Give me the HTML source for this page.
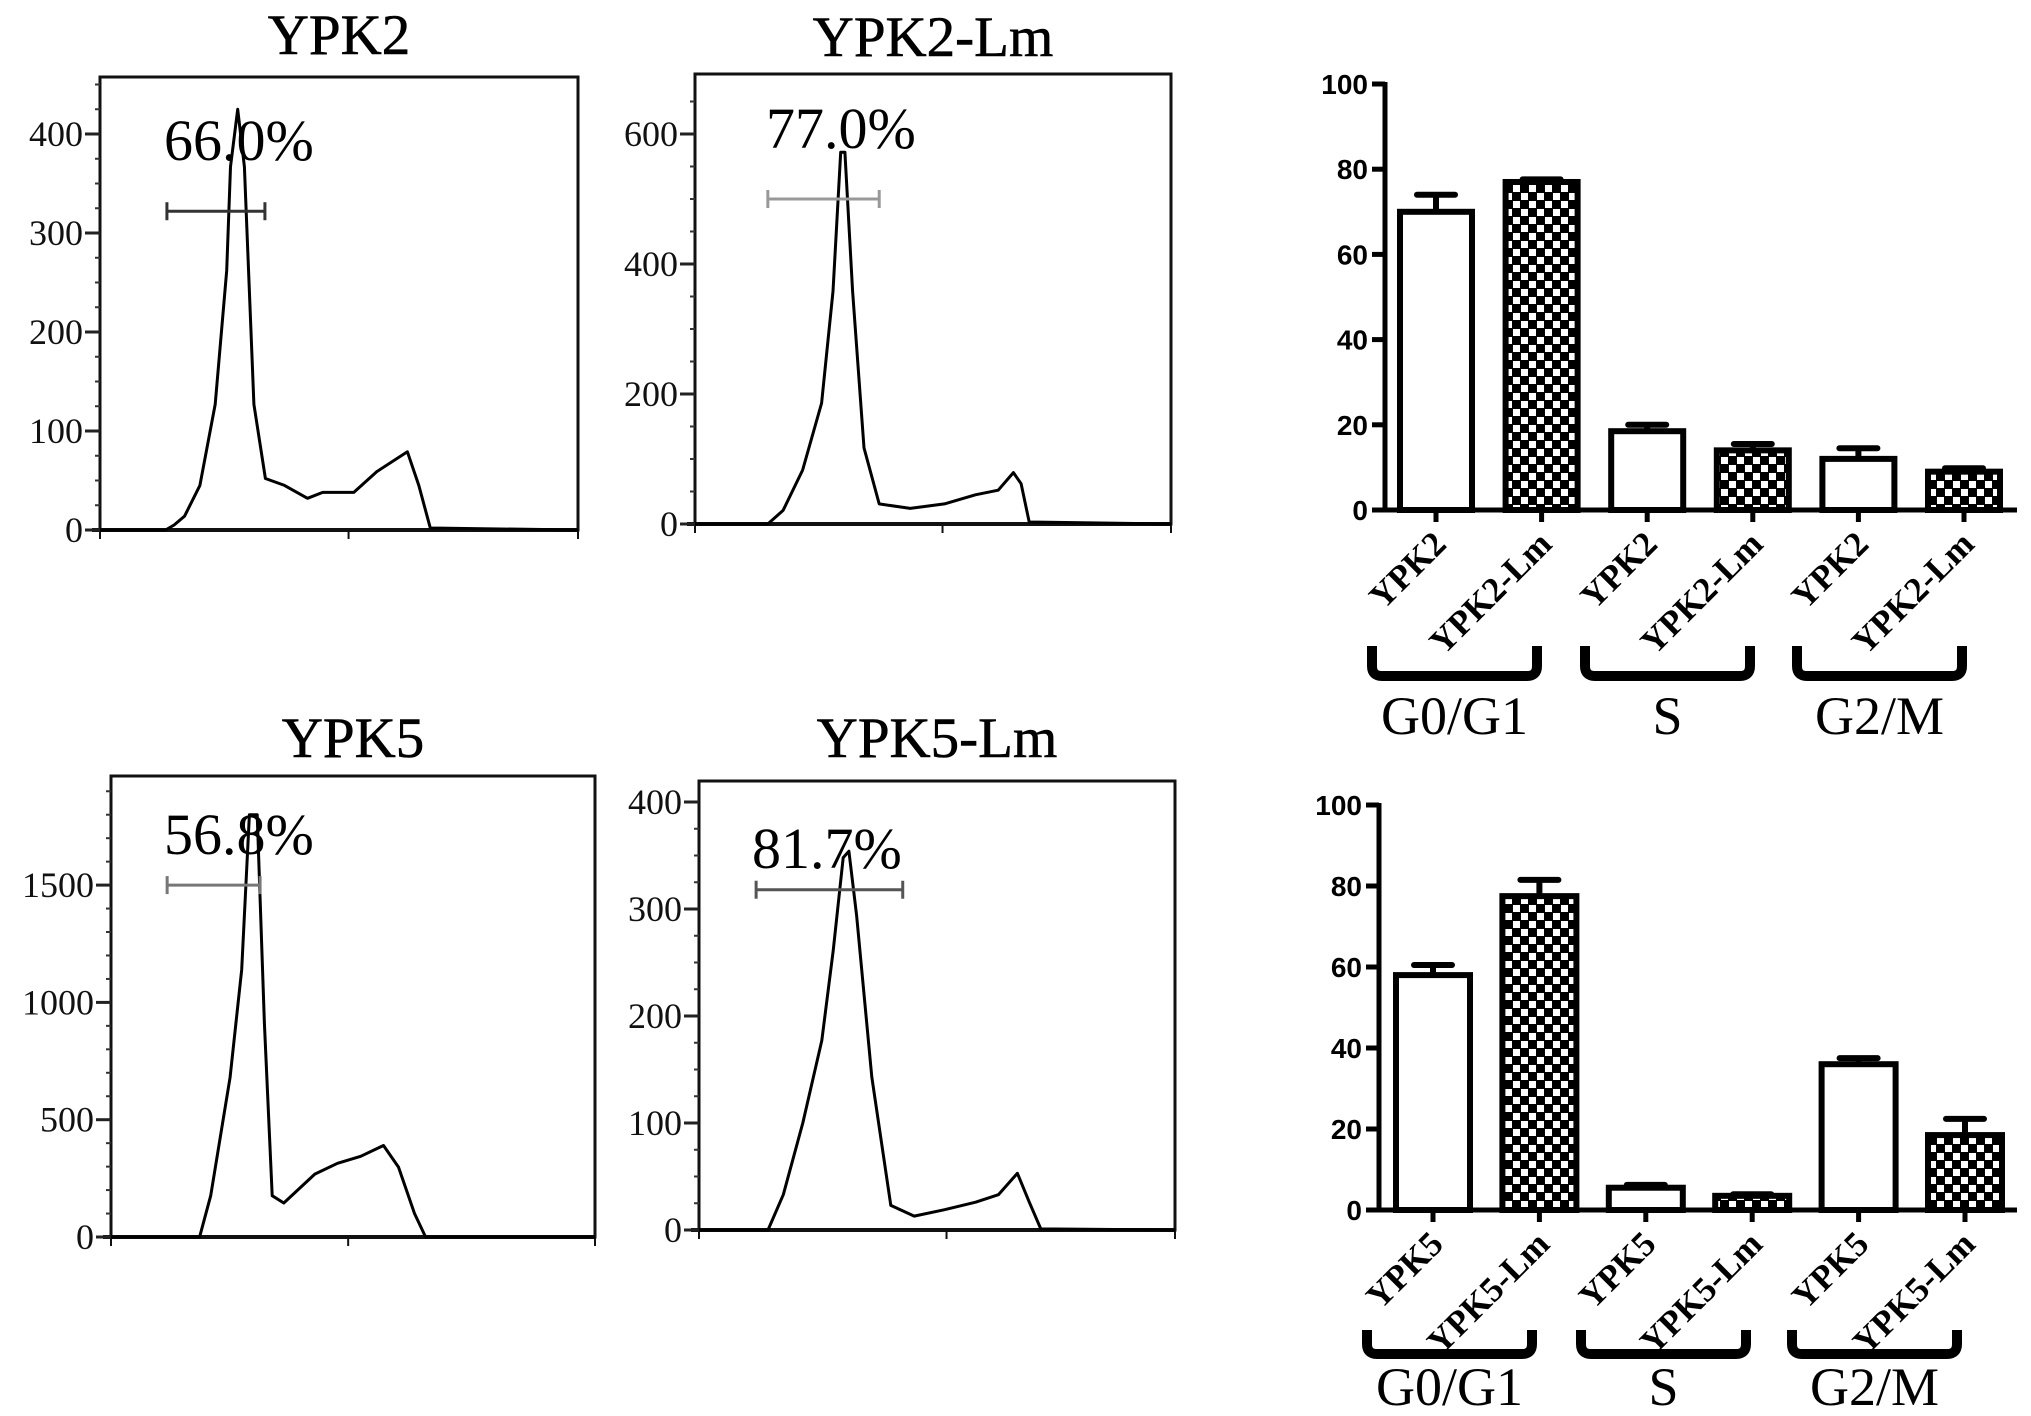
<!DOCTYPE html>
<html><head><meta charset="utf-8"><style>
html,body{margin:0;padding:0;background:#fff;}
svg{display:block;}
.ser{font-family:"Liberation Serif",serif;}
.sans{font-family:"Liberation Sans",sans-serif;font-weight:bold;}
</style></head><body>
<svg id="fig" width="2031" height="1416" viewBox="0 0 2031 1416" xmlns="http://www.w3.org/2000/svg">
<defs>
<pattern id="chk" width="16" height="16" patternUnits="userSpaceOnUse">
<rect width="16" height="16" fill="#000"/>
<rect x="1" y="1" width="7" height="7" fill="#fff"/>
<rect x="9" y="9" width="7" height="7" fill="#fff"/>
</pattern>
</defs>
</svg>
<script>
// ---------- histogram data (x: relative channel 0-100, y: counts) ----------
const hist1X = [0,13.7,15.5,17.7,20.9,24.1,26.5,27.3,28.8,30.2,32.2,34.6,38.6,43.4,46.6,53.1,57.9,64.3,66.7,69.1,100];
const hist1Y = [0,0,5,14,45,127,262,367,425,367,127,52,45,32,38,38,59,79,45,2,0];
const hist2X = [0,15.3,18.5,22.6,26.6,29,30.6,31.5,33.1,35.5,38.7,45.2,52.4,58.9,63.7,66.9,68.5,70.2,100];
const hist2Y = [0,0,21,83,186,358,572,572,358,117,31,24,31,45,52,79,62,3,0];
const hist3X = [0,18.3,20.6,24.6,27,28.6,30.2,31.7,33.3,35.7,42.1,46.8,51.6,56.3,59.4,62.7,65,100];
const hist3Y = [0,0,176,681,1140,1800,1800,911,176,145,268,314,344,390,298,100,0,0];
const hist4X = [0,14.5,17.7,21.8,25.8,28.2,30.3,31.5,33.1,36.3,40.3,45.2,51.6,58.1,62.9,66.9,69.4,71.8,100];
const hist4Y = [0,0,33,100,177,261,348,354,294,143,23,13,19,26,33,53,26,1,0];
const hist1Ticks = [0,100,200,300,400];
const hist2Ticks = [0,200,400,600];
const hist3Ticks = [0,500,1000,1500];
const hist4Ticks = [0,100,200,300,400];
const histTitles = ["YPK2","YPK2-Lm","YPK5","YPK5-Lm"];
const histPercents = ["66.0%","77.0%","56.8%","81.7%"];
const gateStart = [14, 15.3, 11.6, 12];
const gateEnd = [34.5, 38.7, 30.8, 42.8];
const gateLevel = [322, 500, 1500, 318];

// ---------- bar chart data ----------
const barGroups = ["G0/G1","S","G2/M"];
const bar1Labels = ["YPK2","YPK2-Lm","YPK2","YPK2-Lm","YPK2","YPK2-Lm"];
const bar1Values = [70,77,18.5,14,12,9];
const bar1Errors = [4,0.6,1.5,1.5,2.5,0.8];
const bar2Labels = ["YPK5","YPK5-Lm","YPK5","YPK5-Lm","YPK5","YPK5-Lm"];
const bar2Values = [58,77.5,5.5,3.5,36,18.5];
const bar2Errors = [2.5,4,0.7,0.4,1.5,4];
const barTicks = [0,20,40,60,80,100];

const NS="http://www.w3.org/2000/svg";
const svg=document.getElementById('fig');
function mk(tag,attrs,parent){const e=document.createElementNS(NS,tag);for(const k in attrs)e.setAttribute(k,attrs[k]);(parent||svg).appendChild(e);return e;}

function histogram(cfg,xs,ys,ticks,idx){
  const g=mk('g',{});
  
  
  const sx=v=>cfg.l+(cfg.r-cfg.l)*v/100;
  const sy=v=>cfg.b-(v-0)*cfg.ppu;
  const t=mk('text',{x:(cfg.l+cfg.r)/2,y:cfg.titleY,'text-anchor':'middle','font-size':57,class:'ser',stroke:'#000','stroke-width':0.6},g);
  t.textContent=histTitles[idx];
  
  
  const fr=mk('rect',{x:cfg.l,y:cfg.t,width:cfg.r-cfg.l,height:cfg.b-cfg.t,fill:'none',stroke:'#111','stroke-width':3},g);
  
  
  const xa=mk('line',{x1:cfg.l-8,y1:cfg.b,x2:cfg.r,y2:cfg.b,stroke:'#111','stroke-width':4},g);
  
  
  [0,cfg.midTick,100].forEach(v=>{mk('line',{x1:sx(v),y1:cfg.b,x2:sx(v),y2:cfg.b+9,stroke:'#111','stroke-width':2},g);});
  const step=(ticks[1]-ticks[0])/cfg.minor;
  for(let v=0;sy(v)>cfg.t+3;v+=step){mk('line',{x1:cfg.l-5,y1:sy(v),x2:cfg.l,y2:sy(v),stroke:'#333','stroke-width':2},g);}
  ticks.forEach(v=>{
    mk('line',{x1:cfg.l-15,y1:sy(v),x2:cfg.l,y2:sy(v),stroke:'#222','stroke-width':3},g);
    const tl=mk('text',{x:cfg.l-17,y:sy(v)+12,'text-anchor':'end','font-size':36,class:'ser',fill:'#111'},g);
    tl.textContent=v;
    
    
  });
  let d='';xs.forEach((x,i)=>{d+=(i?'L':'M')+sx(x).toFixed(1)+','+sy(ys[i]).toFixed(1);});
  const p=mk('path',{d:d,fill:'none',stroke:'#000','stroke-width':3,'stroke-linejoin':'round'},g);
  
  
  const gy=sy(gateLevel[idx]);
  const gx1=sx(gateStart[idx]),gx2=sx(gateEnd[idx]);
  const gg=mk('g',{stroke:cfg.gateCol,'stroke-width':3},g);
  
  
  mk('line',{x1:gx1,y1:gy,x2:gx2,y2:gy},gg);
  mk('line',{x1:gx1,y1:gy-9,x2:gx1,y2:gy+9},gg);
  mk('line',{x1:gx2,y1:gy-9,x2:gx2,y2:gy+9},gg);
  const pt=mk('text',{x:cfg.pctX,y:cfg.pctY,'font-size':58,class:'ser',fill:'#000'},g);
  pt.textContent=histPercents[idx];
  
  
}

histogram({l:100,r:578,t:77,b:530,ppu:0.99,titleY:54,midTick:52,minor:4,gateCol:'#333',pctX:164,pctY:160},hist1X,hist1Y,hist1Ticks,0);
histogram({l:695,r:1171,t:74,b:524,ppu:0.65,titleY:56,midTick:52,minor:4,gateCol:'#999',pctX:766,pctY:148},hist2X,hist2Y,hist2Ticks,1);
histogram({l:111,r:595,t:776,b:1237,ppu:0.2346,titleY:757,midTick:49,minor:5,gateCol:'#777',pctX:164,pctY:854},hist3X,hist3Y,hist3Ticks,2);
histogram({l:699,r:1175,t:781,b:1230,ppu:1.07,titleY:757,midTick:52,minor:4,gateCol:'#555',pctX:752,pctY:868},hist4X,hist4Y,hist4Ticks,3);

function barChart(cfg,labels,vals,errs,name){
  const g=mk('g',{});
  
  
  const sy=v=>cfg.b-v*cfg.ppu;
  const cx=i=>cfg.x0+i*cfg.dx;
  const ya=mk('line',{x1:cfg.l,y1:sy(100)-2,x2:cfg.l,y2:cfg.b,stroke:'#000','stroke-width':5},g);
  
  
  barTicks.forEach(v=>{
    mk('line',{x1:cfg.l-13,y1:sy(v),x2:cfg.l,y2:sy(v),stroke:'#000','stroke-width':5},g);
    const t=mk('text',{x:cfg.l-17,y:sy(v)+10,'text-anchor':'end','font-size':28,class:'sans'},g);
    t.textContent=v;
    
    
  });
  vals.forEach((v,i)=>{
    const c=cx(i),w=cfg.w,top=sy(v);
    const e=mk('g',{stroke:'#000','stroke-width':6},g);
    
    
    const et=sy(v+errs[i]);
    mk('line',{x1:c,y1:top,x2:c,y2:et},e);
    mk('line',{x1:c-19,y1:et,x2:c+19,y2:et,'stroke-linecap':'round'},e);
    const r=mk('rect',{x:c-w/2,y:top,width:w,height:cfg.b-top,fill:i%2?'url(#chk)':'#fff',stroke:'#000','stroke-width':6},g);
    
    
    mk('line',{x1:c,y1:cfg.b,x2:c,y2:cfg.b+12,stroke:'#000','stroke-width':5},g);
    const ax=c+12,ay=cfg.b+36;
    const t=mk('text',{x:ax,y:ay,'text-anchor':'end','font-size':35,'font-weight':'bold',class:'ser',transform:'rotate(-45 '+ax+' '+ay+')'},g);
    t.textContent=labels[i];
    
    
  });
  const xa=mk('line',{x1:cfg.l,y1:cfg.b,x2:2017,y2:cfg.b,stroke:'#000','stroke-width':5},g);
  
  
  barGroups.forEach((gname,k)=>{
    const x1=cfg.brX[k]+5,x2=cfg.brX[k]+170,T=cfg.brT,B=cfg.brB;
    const br=mk('path',{d:`M${x1},${T} L${x1},${B-10} Q${x1},${B} ${x1+10},${B} L${x2-10},${B} Q${x2},${B} ${x2},${B-10} L${x2},${T}`,fill:'none',stroke:'#000','stroke-width':10,'stroke-linejoin':'round'},g);
    
    
    const t=mk('text',{x:(x1+x2)/2,y:cfg.gY,'text-anchor':'middle','font-size':54,class:'ser'},g);
    t.textContent=gname;
    
    
  });
}
barChart({l:1385,b:510,ppu:4.26,x0:1436,dx:105.6,w:72,brX:[1367,1580,1792],brT:646,brB:676,gY:734},bar1Labels,bar1Values,bar1Errors,'bar-chart-ypk2');
barChart({l:1379,b:1210,ppu:4.05,x0:1433,dx:106.4,w:74,brX:[1362,1576,1787],brT:1330,brB:1354,gY:1405},bar2Labels,bar2Values,bar2Errors,'bar-chart-ypk5');
</script>
</body></html>
